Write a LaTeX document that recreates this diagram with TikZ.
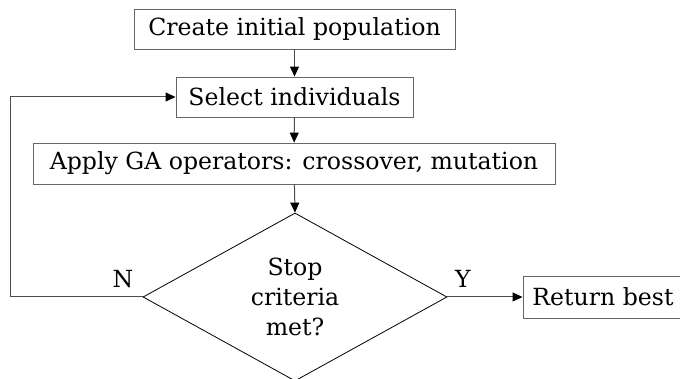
\documentclass[tikz,border=0pt]{standalone}
\usepackage{fontspec}
\setmainfont{DejaVu Serif}
\usetikzlibrary{shapes.geometric,arrows.meta}
\begin{document}
\begin{tikzpicture}[x=1pt,y=-1pt,
  every node/.style={font=\fontsize{23.6}{30}\selectfont, inner sep=0pt},
  box/.style={draw=black!60, line width=0.9pt, minimum height=40pt},
  decision/.style={diamond, draw=black, line width=0.8pt, aspect=1.8, minimum width=304pt, minimum height=168pt, align=center},
  conn/.style={draw=black!70, line width=1pt, -{Triangle[length=10pt,width=9pt,color=black,fill=black]}},
  lab/.style={anchor=base}]
\useasboundingbox (0,0) rectangle (680,379);
\node[box, minimum width=321pt] (b1) at (294.5,29) {Create initial population};
\node[box, minimum width=237pt] (b2) at (294.5,97) {Select individuals};
\node[box, minimum width=522pt, minimum height=41pt] (b3) at (294,163.5) {Apply GA operators: crossover, mutation};
\node[decision] (d) at (295,297) {Stop\\criteria\\met?};
\node[box, minimum width=160pt, minimum height=42pt] (r) at (603,297) {Return best};
\coordinate (lb) at (10,297);
\coordinate (lt) at (10,97);
\draw[conn] (b1) -- (b2);
\draw[conn] (b2) -- (b3);
\draw[conn] (b3) -- (d.north);
\draw[conn] (d.east) -- (r.west);
\draw[conn] (d.west) -- (lb) -- (lt) -- (b2.west);
\node[lab] (n) at (123,288) {N};
\node[lab] (y) at (463,288) {Y};
\end{tikzpicture}
\end{document}
